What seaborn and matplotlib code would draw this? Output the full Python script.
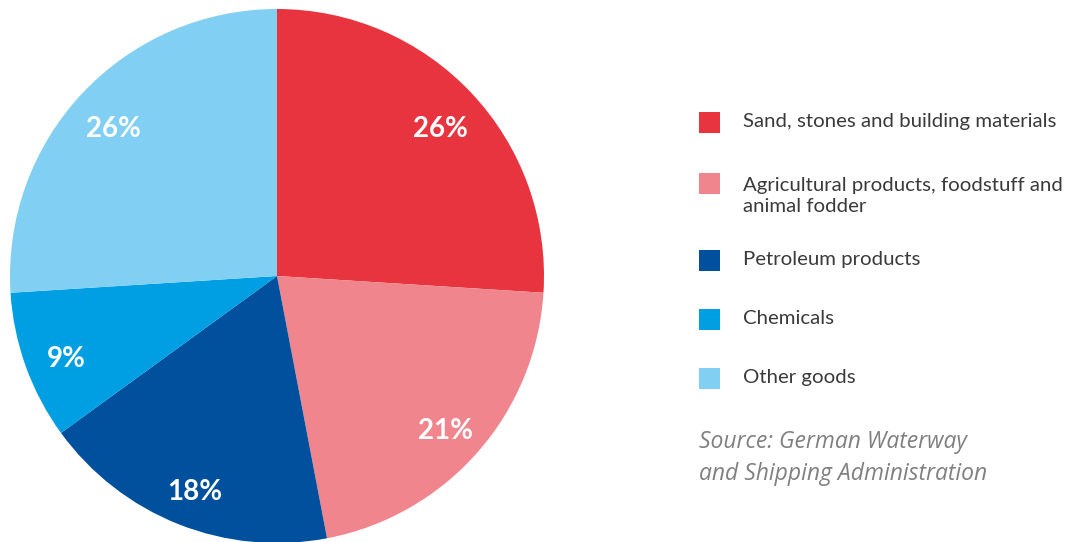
import matplotlib.pyplot as plt
import matplotlib.transforms as mtransforms
import seaborn as sns
from matplotlib.patches import Rectangle

categories = [
    "Sand, stones and building materials",
    "Agricultural products, foodstuff and\nanimal fodder",
    "Petroleum products",
    "Chemicals",
    "Other goods",
]
shares = [26, 21, 18, 9, 26]
slice_colors = ["#E8343F", "#F0858E", "#00509E", "#009FE3", "#82CFF4"]
source_note = "Source: German Waterway\nand Shipping Administration"

sns.set_theme(style="white")
palette = sns.color_palette(slice_colors)
plt.rcParams["font.family"] = ["Lato", "DejaVu Sans"]

W, H = 1076, 542
fig = plt.figure(figsize=(W / 100, H / 100), dpi=100)

# pie axes: centre (277, 276), radius 267 px
cx, cy, r = 277, 276, 267
ax = fig.add_axes([(cx - r) / W, (H - cy - r) / H, 2 * r / W, 2 * r / H])
_, _, autotexts = ax.pie(
    shares,
    colors=palette,
    startangle=90,
    counterclock=False,
    autopct="%d%%",
    pctdistance=0.84,
    wedgeprops={"linewidth": 0},
    textprops={"color": "white", "fontsize": 20, "fontweight": "bold"},
)
# labels sit a little lower in the original
shift = mtransforms.ScaledTranslation(0, -7 / 100, fig.dpi_scale_trans)
for t in autotexts:
    t.set_transform(t.get_transform() + shift)
ax.set_xlim(-1, 1)
ax.set_ylim(-1, 1)
ax.set_aspect("equal")
ax.axis("off")

# legend drawn in pixel coordinates
lax = fig.add_axes([0, 0, 1, 1])
lax.set_xlim(0, W)
lax.set_ylim(H, 0)
lax.axis("off")
row_y = [122, 183, 260, 319, 378]
for y, label, color in zip(row_y, categories, palette):
    lax.add_patch(Rectangle((699, y - 10.5), 21, 21, color=color, lw=0))
    lax.text(743, y + (13 if "\n" in label else 0), label, va="center",
             fontsize=14.7, color="#3a3a3a", linespacing=1.35)
lax.text(699, 458, source_note, fontsize=16.5, style="italic",
         color="#808080", va="center", linespacing=1.45,
         family=["Open Sans", "DejaVu Sans"])

fig.savefig("out.png", dpi=100)
plt.close(fig)
